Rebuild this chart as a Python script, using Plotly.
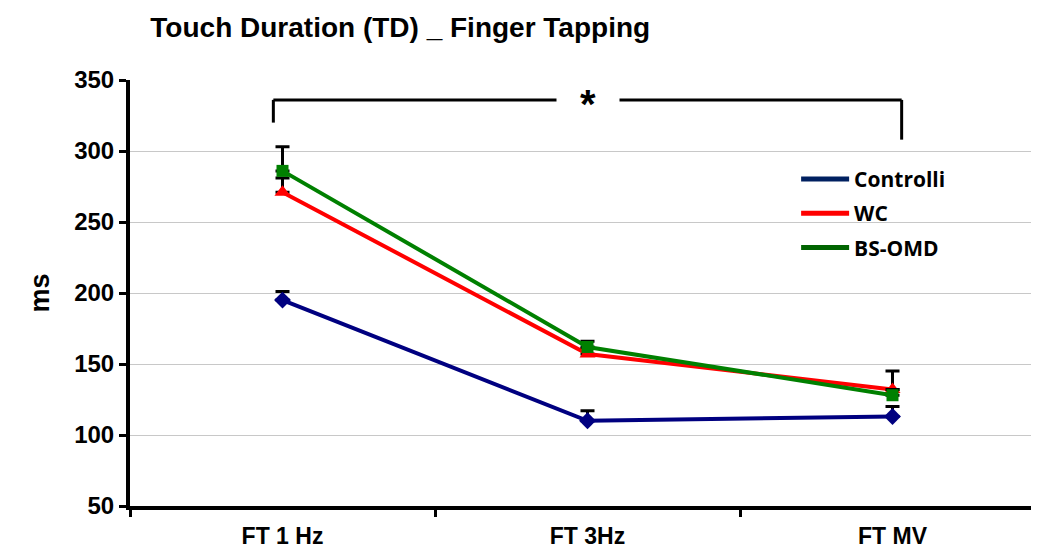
import plotly.graph_objects as go

categories = ["FT 1 Hz", "FT 3Hz", "FT MV"]
controlli = [195, 110, 113]
controlli_err = [6, 7, 7]
wc = [271, 157, 132]
wc_err = [10, 4, 13]
bsomd = [286, 162, 128]
bsomd_err = [17, 4, 4]
y_ticks = [50, 100, 150, 200, 250, 300, 350]

fig = go.Figure()

series = [
    ("Controlli", controlli, controlli_err, "#000080", "diamond", 13),
    ("WC", wc, wc_err, "#FF0000", "triangle-up", 14),
    ("BS-OMD", bsomd, bsomd_err, "#008000", "square", 12),
]
for name, vals, err, color, sym, ms in series:
    fig.add_trace(go.Scatter(
        x=categories, y=vals, name=name, mode="lines+markers",
        line=dict(color=color, width=4), showlegend=False, legendgroup=name,
        marker=dict(symbol=sym, size=ms, color=color),
        error_y=dict(type="data", symmetric=False, array=err, arrayminus=[0] * len(err),
                     color="black", thickness=3, width=7),
    ))
legend_colors = {"Controlli": "#002060", "WC": "#FF0000", "BS-OMD": "#006400"}
for name, vals, err, color, sym, ms in series:
    fig.add_trace(go.Scatter(
        x=[None], y=[None], name=f"<b>{name}</b>", mode="lines", legendgroup=name,
        line=dict(color=legend_colors[name], width=5),
    ))

# significance bracket
fig.add_shape(type="line", xref="x", yref="y", x0=-0.03, x1=-0.03, y0=320, y1=336,
              line=dict(color="black", width=3))
fig.add_shape(type="line", xref="x", yref="y", x0=-0.03, x1=2.03, y0=336, y1=336,
              line=dict(color="black", width=3))
fig.add_shape(type="line", xref="x", yref="y", x0=2.03, x1=2.03, y0=308, y1=336,
              line=dict(color="black", width=3))
fig.add_annotation(x=1.0, y=333, xref="x", yref="y", text="<b>*</b>", showarrow=False,
                   font=dict(family="Liberation Sans", size=40, color="black"),
                   bgcolor="white", width=60, height=50, yanchor="middle")

fig.update_layout(
    width=1039, height=548,
    paper_bgcolor="white", plot_bgcolor="white",
    margin=dict(l=122, r=2, t=72, b=50),
    title=dict(text="<b>Touch Duration (TD) _ Finger Tapping</b>", x=0.137, xanchor="left",
               y=0.965, yanchor="middle",
               font=dict(family="Liberation Sans", size=28, color="black")),
    font=dict(family="Liberation Sans", color="black"),
    legend=dict(x=0.728, y=0.815, xanchor="left", yanchor="top",
                font=dict(family="Open Sans", size=21, color="black"),
                bgcolor="rgba(0,0,0,0)", itemwidth=48, tracegroupgap=4),
    showlegend=True,
)
fig.update_xaxes(
    type="category", range=[-0.5, 2.5], tickson="boundaries",
    showline=True, linecolor="black", linewidth=4,
    ticks="outside", ticklen=7, tickwidth=3, tickcolor="black",
    tickfont=dict(family="Liberation Sans", size=23, color="black"),
    ticklabelstandoff=6,
    showgrid=False, zeroline=False,
    tickprefix="<b>", ticksuffix="</b>",
)
fig.update_yaxes(
    range=[50, 350], tickvals=y_ticks, ticktext=[f"<b>{v}</b>" for v in y_ticks],
    showline=True, linecolor="black", linewidth=4,
    ticks="outside", ticklen=7, tickwidth=3, tickcolor="black",
    tickfont=dict(family="Liberation Sans", size=24, color="black"),
    showgrid=True, gridcolor="#c8c8c8", gridwidth=1, zeroline=False,
    title=dict(text="<b>ms</b>", font=dict(family="Liberation Sans", size=27, color="black"),
               standoff=18),
)

fig.write_html("out.html")
